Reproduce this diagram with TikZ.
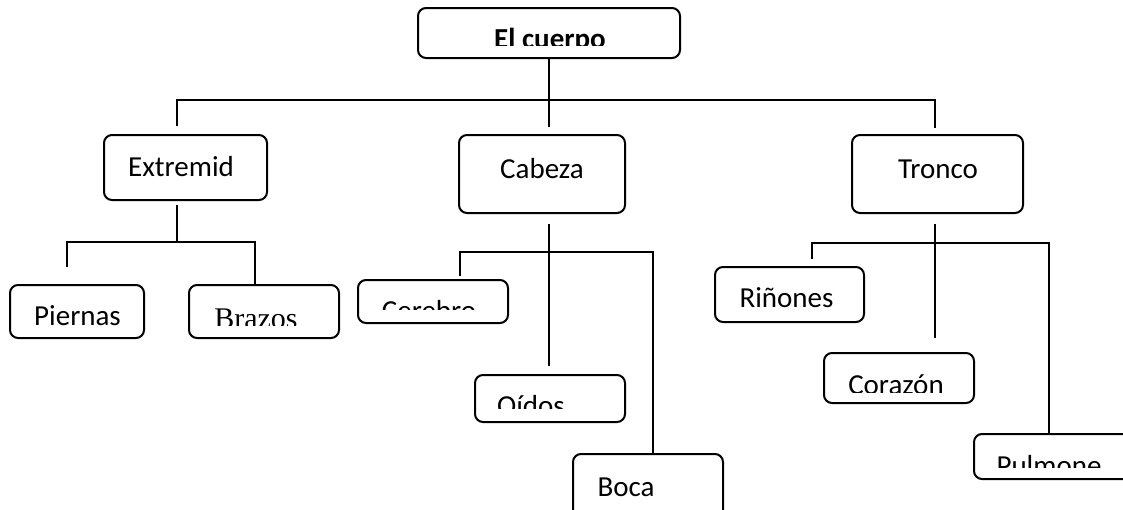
\documentclass[tikz,border=0pt]{standalone}
\usepackage{fontspec}
\setmainfont{Carlito}
\newfontfamily\letratimes{Liberation Serif}

\begin{document}
\begin{tikzpicture}[x=1pt,y=-1pt,line width=2pt,
  caja/.style={draw,rounded corners=8pt,inner sep=0pt},
  rotulo/.style={anchor=base,inner sep=0pt,font=\fontsize{29}{31}\selectfont}]
\useasboundingbox (0,0) rectangle (1123,509);

% cajas
\node[caja,minimum width=262pt,minimum height=50pt] (cuerpo) at (549,33) {};
\node[caja,minimum width=163pt,minimum height=65pt] (extremid) at (185.5,167.5) {};
\node[caja,minimum width=166pt,minimum height=78pt] (cabeza) at (542,174) {};
\node[caja,minimum width=171pt,minimum height=78pt] (tronco) at (937.5,174) {};
\node[caja,minimum width=134pt,minimum height=53pt] (piernas) at (77,311.5) {};
\node[caja,minimum width=150pt,minimum height=53pt] (brazos) at (264,311.5) {};
\node[caja,minimum width=150pt,minimum height=43pt] (cerebro) at (433,301.5) {};
\node[caja,minimum width=150pt,minimum height=47pt] (oidos) at (550,398.5) {};
\node[caja,minimum width=150pt,minimum height=70pt] (boca) at (648,489) {};
\node[caja,minimum width=149pt,minimum height=55pt] (rinones) at (789.5,294.5) {};
\node[caja,minimum width=150pt,minimum height=50pt] (corazon) at (899,378) {};
\node[caja,minimum width=160pt,minimum height=45pt] (pulmone) at (1054,456.5) {};

% textos
\begin{scope}
  \clip (0,0) rectangle (1123,45);
  \node[rotulo,font=\fontsize{29}{31}\selectfont\bfseries] (tcuerpo) at (550,48) {El cuerpo};
\end{scope}
\node[rotulo] (textremid) at (181,176) {Extremid};
\node[rotulo] (tcabeza) at (542,178) {Cabeza};
\node[rotulo] (ttronco) at (938,178) {Tronco};
\node[rotulo] (tpiernas) at (77.5,325) {Piernas};
\begin{scope}
  \clip (0,290) rectangle (1123,325);
  \node[rotulo,font=\fontsize{30}{32}\selectfont\letratimes] (tbrazos) at (256,328) {Brazos};
\end{scope}
\begin{scope}
  \clip (0,290) rectangle (1123,309);
  \node[rotulo] (tcerebro) at (429,320) {Cerebro};
\end{scope}
\begin{scope}
  \clip (0,380) rectangle (1123,408);
  \node[rotulo] (toidos) at (531,415) {Oídos};
\end{scope}
\node[rotulo] (tboca) at (626,496) {Boca};
\node[rotulo] (trinones) at (786.5,307) {Riñones};
\begin{scope}
  \clip (0,360) rectangle (1123,392);
  \node[rotulo] (tcorazon) at (896,394) {Corazón};
\end{scope}
\begin{scope}
  \clip (0,440) rectangle (1123,467);
  \node[rotulo] (tpulmone) at (1049,475) {Pulmone};
\end{scope}

% lineas
\coordinate (t0) at (549,127);
\coordinate (t1) at (177,126);
\coordinate (t3) at (935,128);
\coordinate (b1) at (177,100);
\coordinate (b3) at (935,100);
\draw (cuerpo.south) -- (t0);
\draw (t1) -- (b1) -- (b3) -- (t3);

\coordinate (e0) at (177,205);
\coordinate (eb) at (177,242);
\coordinate (e1) at (67,267);
\draw (e0) -- (eb);
\draw (e1) |- (eb) -| ([xshift=-9pt]brazos.north);

\coordinate (c0) at (549,224);
\coordinate (c1) at (549,366);
\coordinate (cc) at (549,252);
\coordinate (c2) at (460,276);
\draw (c0) -- (c1);
\draw (c2) |- (cc) -| ([xshift=5pt]boca.north);

\coordinate (r0) at (935,224);
\coordinate (r1) at (935,338);
\coordinate (rr) at (935,243);
\coordinate (r2) at (812,259);
\draw (r0) -- (r1);
\draw (r2) |- (rr) -| ([xshift=-5pt]pulmone.north);
\end{tikzpicture}
\end{document}
